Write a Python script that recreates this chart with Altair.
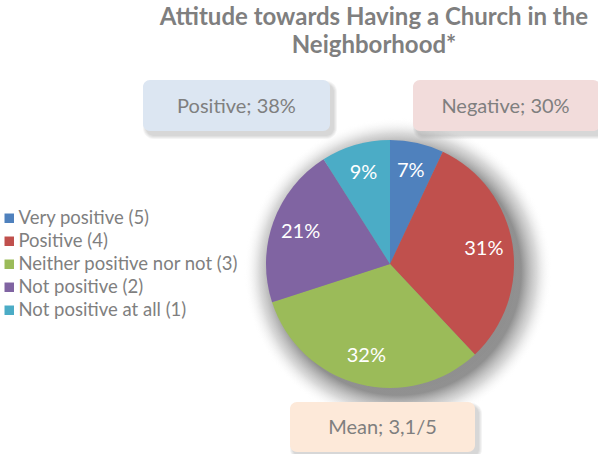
import altair as alt
import pandas as pd

# ---- data ----
categories = ["Very positive (5)", "Positive (4)", "Neither positive nor not (3)",
              "Not positive (2)", "Not positive at all (1)"]
shares = [7, 31, 32, 21, 9]
colors = ["#4F81BD", "#C0504D", "#9BBB59", "#8064A2", "#4BACC6"]
title_lines = ["Attitude towards Having a Church in the", "Neighborhood*"]
box_texts = ["Positive; 38%", "Negative; 30%", "Mean; 3,1/5"]
box_fills = ["#DCE6F2", "#F2DCDB", "#FDE9D9"]

W, H = 598, 454
CX, CY, R = 390, 264, 124
GRAY = "#7f7f7f"
FONT = "Lato"

df = pd.DataFrame({
    "category": categories,
    "share": shares,
    "order": list(range(len(categories))),
    "label": [f"{s}%" for s in shares],
})

one = pd.DataFrame({"a": [0]})

# soft drop shadow behind pie
shadow = alt.Chart(one).mark_arc(
    theta=0, theta2=6.2832, outerRadius=R + 30,
    fill=alt.Gradient(
        gradient="radial",
        stops=[alt.GradientStop(offset=0, color="rgba(120,120,120,0.9)"),
               alt.GradientStop(offset=0.80, color="rgba(125,125,125,0.85)"),
               alt.GradientStop(offset=0.90, color="rgba(180,180,180,0.5)"),
               alt.GradientStop(offset=1, color="rgba(255,255,255,0)")],
        x1=0.5, y1=0.5, x2=0.5, y2=0.5, r1=0, r2=0.5),
).encode(x=alt.value(CX + 8), y=alt.value(CY + 8))

base = alt.Chart(df).encode(
    theta=alt.Theta("share:Q", stack=True),
    order=alt.Order("order:Q"),
)

pie = base.mark_arc(outerRadius=R, stroke=None).encode(
    x=alt.value(CX), y=alt.value(CY),
    color=alt.Color(
        "category:N",
        scale=alt.Scale(domain=categories, range=colors),
        legend=alt.Legend(
            orient="none", legendX=0, legendY=209, title=None,
            symbolType="square", symbolSize=90, symbolStrokeWidth=0,
            labelFontSize=18.5, labelColor=GRAY, labelFont=FONT, labelLimit=0,
            rowPadding=4, labelOffset=0, padding=0,
        ),
    ),
)

labels = base.mark_text(radius=95, fontSize=20, font=FONT, color="white").encode(
    x=alt.value(CX), y=alt.value(CY), text="label:N"
)

# title
title = alt.Chart(one).mark_text(
    text=title_lines, fontSize=24, font=FONT, fontWeight="bold", color=GRAY,
    lineHeight=28, align="center", baseline="alphabetic",
).encode(x=alt.value(374), y=alt.value(25))

# annotation boxes
boxes_pos = [(143, 330, 80, 131), (413, 600, 80, 131), (290, 475, 402, 452)]
layers = [shadow]
for (x1, x2, y1, y2), txt, fill in zip(boxes_pos, box_texts, box_fills):
    for k in range(4):
        layers.append(
            alt.Chart(one).mark_rect(cornerRadius=8 + k, color="#808080", opacity=0.09).encode(
                x=alt.value(x1 + 3 - k), x2=alt.value(x2 + 4 + k),
                y=alt.value(y1 + 4 - k), y2=alt.value(y2 + 5 + k))
        )
for (x1, x2, y1, y2), txt, fill in zip(boxes_pos, box_texts, box_fills):
    layers.append(
        alt.Chart(one).mark_rect(cornerRadius=7, color=fill).encode(
            x=alt.value(x1), x2=alt.value(x2), y=alt.value(y1), y2=alt.value(y2))
    )
    layers.append(
        alt.Chart(one).mark_text(text=txt, fontSize=20, font=FONT, color=GRAY,
                                 align="center", baseline="middle").encode(
            x=alt.value((x1 + min(x2, W)) / 2), y=alt.value((y1 + y2) / 2 + 1))
    )

chart = alt.layer(*layers, pie, labels, title).properties(
    width=W, height=H, autosize=alt.AutoSizeParams(type="none"), padding=0,
    background="white",
).configure_view(stroke=None)

chart.save("out.html", embed_options={"renderer": "svg", "actions": False})
